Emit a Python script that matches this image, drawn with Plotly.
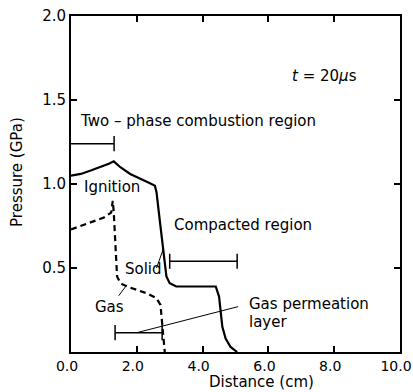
import plotly.graph_objects as go

# Solid-phase pressure profile (cm, GPa)
solid_x = [0, 0.3, 0.6, 0.9, 1.15, 1.3, 1.5, 1.8, 2.1, 2.4, 2.55, 2.6, 2.7, 2.8, 2.9, 3.0, 3.2, 3.6, 4.0, 4.4, 4.5, 4.55, 4.6, 4.7, 4.85, 5.05]
solid_y = [1.05, 1.06, 1.08, 1.10, 1.12, 1.135, 1.10, 1.06, 1.03, 1.005, 0.99, 0.95, 0.78, 0.60, 0.45, 0.41, 0.39, 0.39, 0.39, 0.39, 0.33, 0.25, 0.15, 0.08, 0.03, 0.0]

# Gas-phase pressure profile (cm, GPa)
gas_x = [0, 0.3, 0.7, 1.0, 1.22, 1.27, 1.3, 1.35, 1.4, 1.5, 1.7, 2.0, 2.3, 2.6, 2.72, 2.78, 2.82, 2.85]
gas_y = [0.73, 0.75, 0.78, 0.80, 0.83, 0.90, 0.83, 0.60, 0.45, 0.41, 0.39, 0.37, 0.35, 0.32, 0.28, 0.15, 0.04, 0.0]

x_ticks = [0, 2, 4, 6, 8, 10]
x_tick_labels = ["0.0", "2.0", "4.0", "6.0", "8.0", "10.0"]
y_ticks = [0.5, 1.0, 1.5, 2.0]
y_tick_labels = ["0.5", "1.0", "1.5", "2.0"]

# Region brackets: (x start, x end, y level)
two_phase = (0.0, 1.31, 1.24)
compacted = (3.0, 5.05, 0.54)
permeation = (1.34, 2.77, 0.115)

FONT = "DejaVu Sans"
fig = go.Figure()
fig.add_trace(go.Scatter(x=solid_x, y=solid_y, mode="lines",
                         line=dict(color="black", width=2.2), showlegend=False))
fig.add_trace(go.Scatter(x=gas_x, y=gas_y, mode="lines",
                         line=dict(color="black", width=2.2, dash="6px,4px"), showlegend=False))

shapes = []
def hline(x0, x1, y):
    shapes.append(dict(type="line", xref="x", yref="y", x0=x0, x1=x1, y0=y, y1=y,
                       line=dict(color="black", width=1.5)))
def vbar(x, y, h=0.045):
    shapes.append(dict(type="line", xref="x", yref="y", x0=x, x1=x, y0=y - h, y1=y + h,
                       line=dict(color="black", width=1.5)))
def seg(x0, y0, x1, y1):
    shapes.append(dict(type="line", xref="x", yref="y", x0=x0, x1=x1, y0=y0, y1=y1,
                       line=dict(color="black", width=1)))

hline(two_phase[0], two_phase[1], two_phase[2]); vbar(two_phase[1], two_phase[2])
hline(compacted[0], compacted[1], compacted[2]); vbar(compacted[0], compacted[2]); vbar(compacted[1], compacted[2])
hline(permeation[0], permeation[1], permeation[2]); vbar(permeation[0], permeation[2]); vbar(permeation[1], permeation[2])

# leader lines
seg(2.6, 0.5, 2.8, 0.61)      # Solid
seg(1.45, 0.335, 1.7, 0.40)   # Gas
seg(5.08, 0.27, 2.0, 0.115)   # Gas permeation layer

annots = [
    dict(x=7.72, y=1.64, text="<i>t</i> = 20<i>μ</i>s", xanchor="center"),
    dict(x=0.21, y=1.375, text="Two – phase combustion region", xanchor="left"),
    dict(x=0.33, y=0.98, text="Ignition", xanchor="left"),
    dict(x=3.07, y=0.756, text="Compacted region", xanchor="left"),
    dict(x=1.58, y=0.494, text="Solid", xanchor="left"),
    dict(x=0.67, y=0.268, text="Gas", xanchor="left"),
    dict(x=5.35, y=0.285, text="Gas permeation", xanchor="left"),
    dict(x=5.35, y=0.18, text="layer", xanchor="left"),
]
for a in annots:
    a.update(xref="x", yref="y", showarrow=False, yanchor="middle",
             font=dict(family=FONT, size=15, color="black"))

# axis titles as annotations (positioned like the reference)
annots.append(dict(xref="paper", yref="paper", x=0.578, y=-0.088, yanchor="middle",
                   xanchor="center", showarrow=False, text="Distance (cm)",
                   font=dict(family=FONT, size=15, color="black")))
annots.append(dict(xref="paper", yref="paper", x=-0.164, y=0.536, yanchor="middle",
                   xanchor="center", showarrow=False, text="Pressure (GPa)", textangle=-90,
                   font=dict(family=FONT, size=15, color="black")))

fig.update_layout(
    width=413, height=392,
    margin=dict(l=71, r=13, t=16, b=40),
    paper_bgcolor="white", plot_bgcolor="white",
    shapes=shapes, annotations=annots,
    font=dict(family=FONT, size=14, color="black"),
    xaxis=dict(range=[0, 10], tickvals=x_ticks, ticktext=x_tick_labels, automargin=False,
               showgrid=False, zeroline=False, showline=True, linewidth=2, linecolor="black",
               mirror="ticks", ticks="inside", ticklen=6, tickwidth=1.5, tickcolor="black",
               ticklabeloverflow="allow", ticklabelshift=-4, ticklabelstandoff=0,
               tickfont=dict(size=14)),
    yaxis=dict(range=[0, 2], tickvals=y_ticks, ticktext=y_tick_labels, automargin=False,
               showgrid=False, zeroline=False, showline=True, linewidth=2, linecolor="black",
               mirror="ticks", ticks="inside", ticklen=6, tickwidth=1.5, tickcolor="black",
               tickfont=dict(size=15)),
)
fig.write_html("out.html")
